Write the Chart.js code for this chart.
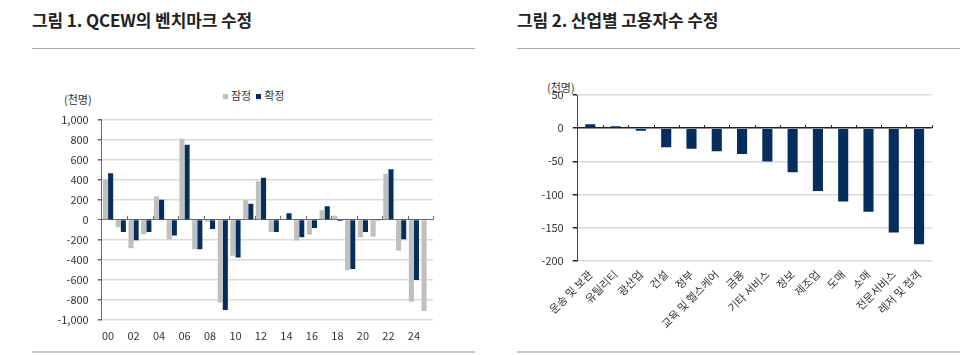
<!DOCTYPE html>
<html><head><meta charset="utf-8">
<script src="https://cdn.jsdelivr.net/npm/chart.js@4/dist/chart.umd.min.js"></script>
<style>
html,body{margin:0;padding:0;background:#fff;}
body{width:974px;height:355px;position:relative;overflow:hidden;font-family:"Noto Sans CJK KR","Noto Sans",sans-serif;color:#222;}
.title{position:absolute;top:7px;font-size:17px;font-weight:bold;letter-spacing:-0.1px;}
.hline{position:absolute;height:1px;background:#aaa;}
.bline{position:absolute;height:2px;background:#c8c8c8;}
.unit{position:absolute;font-size:11px;color:#333;}
.legend{position:absolute;font-size:11px;color:#333;top:87px;left:223px;white-space:nowrap;}
.legend i{display:inline-block;width:5px;height:5px;margin-right:3px;vertical-align:middle;position:relative;top:-1px;}
canvas{position:absolute;}
</style></head>
<body>
<div class="title" style="left:32px">그림 1. QCEW의 벤치마크 수정</div>
<div class="hline" style="left:32px;width:443px;top:48px"></div>
<div class="title" style="left:517px">그림 2. 산업별 고용자수 수정</div>
<div class="hline" style="left:517px;width:443px;top:48px"></div>
<div class="bline" style="left:32px;width:443px;top:351px"></div>
<div class="bline" style="left:517px;width:443px;top:351px"></div>
<div class="unit" style="left:64px;top:91px">(천명)</div>
<div class="legend"><i style="background:#bfbfbf"></i>잠정 &nbsp;<i style="background:#062e5c"></i>확정</div>
<div class="unit" style="left:547px;top:79px">(천명)</div>
<div id="c1w" style="position:absolute;left:20px;top:104px;width:430px;height:246px"><canvas id="c1"></canvas></div>
<div id="c2w" style="position:absolute;left:520px;top:70px;width:430px;height:285px"><canvas id="c2"></canvas></div>
<script>
// ---- Chart 1 data ----
const years = ['00','01','02','03','04','05','06','07','08','09','10','11','12','13','14','15','16','17','18','19','20','21','22','23','24','25'];
const yearTickLabels = ['00','','02','','04','','06','','08','','10','','12','','14','','16','','18','','20','','22','','24',''];
const prelim = [400,-75,-283,-143,235,-193,810,-293,-20,-825,-360,195,385,-123,0,-207,-150,95,40,-500,-173,-167,460,-307,-817,-910];
const finalRev = [465,-123,-205,-123,200,-157,750,-295,-93,-900,-375,160,420,-123,65,-173,-83,135,-13,-490,-123,-8,505,-193,-600,null];
// ---- Chart 2 data ----
const industries = ['운송 및 보관','유틸리티','광산업','건설','정부','교육 및 헬스케어','금융','기타 서비스','정보','제조업','도매','소매','전문서비스','레저 및 접객'];
const industryRev = [6,3,-4,-29,-31,-35,-39,-50.5,-66.5,-95,-110.5,-126,-157.5,-175];

const FONT = '"Noto Sans CJK KR","Noto Sans",sans-serif';
const NAVY = '#062e5c', GRAY = '#bfbfbf';

const zeroTicks = {
  id: 'zeroTicks',
  afterDatasetsDraw(chart, args, opts) {
    const xs = chart.scales.x, ys = chart.scales.y;
    const y0 = ys.getPixelForValue(0);
    const ctx = chart.ctx;
    ctx.save();
    ctx.strokeStyle = opts.color; ctx.lineWidth = 1;
    const n = chart.data.labels.length;
    for (let i = opts.every; i <= n; i += opts.every) {
      const px = Math.round(xs.getPixelForValue(i - 0.5)) + 0.5;
      ctx.beginPath(); ctx.moveTo(px, y0); ctx.lineTo(px, y0 - opts.len); ctx.stroke();
    }
    ctx.restore();
  }
};

Chart.defaults.font.family = FONT;
Chart.defaults.color = '#333';

new Chart(document.getElementById('c1'), {
  type: 'bar',
  data: {
    labels: years,
    datasets: [
      {label: '잠정', data: prelim, backgroundColor: GRAY, barPercentage: 1, categoryPercentage: 0.8},
      {label: '확정', data: finalRev, backgroundColor: NAVY, barPercentage: 1, categoryPercentage: 0.8}
    ]
  },
  options: {
    responsive: true, maintainAspectRatio: false, animation: false,
    layout: {padding: {top: 4, right: 17, left: 0, bottom: 0}},
    plugins: {legend: {display: false}, tooltip: {enabled: false}, zeroTicks: {color: '#666', every: 2, len: 4}},
    scales: {
      x: {
        grid: {display: false, drawTicks: false}, border: {display: false},
        ticks: {autoSkip: false, maxRotation: 0, padding: 9, font: {size: 11}, callback: (v, i) => yearTickLabels[i]},
        afterFit: s => { s.height = 30; }
      },
      y: {
        min: -1000, max: 1000,
        ticks: {stepSize: 200, padding: 9, font: {size: 11}},
        grid: {
          color: c => c.tick && c.tick.value === 0 ? '#666' : '#dadada',
          lineWidth: c => c.tick && c.tick.value === 0 ? 1 : 1.5,
          tickColor: '#666', tickLength: 4
        },
        border: {display: true, color: '#666', width: 1},
        afterFit: s => { s.width = 81.7; }
      }
    }
  },
  plugins: [zeroTicks]
});

new Chart(document.getElementById('c2'), {
  type: 'bar',
  data: {
    labels: industries,
    datasets: [{label: '수정', data: industryRev, backgroundColor: NAVY, barPercentage: 0.4, categoryPercentage: 1}]
  },
  options: {
    responsive: true, maintainAspectRatio: false, animation: false,
    layout: {padding: {top: 25, right: 18.3, left: 0, bottom: 0}},
    plugins: {legend: {display: false}, tooltip: {enabled: false}, zeroTicks: {color: '#222', every: 1, len: 3}},
    scales: {
      x: {
        grid: {display: false, drawTicks: false}, border: {display: false},
        ticks: {autoSkip: false, minRotation: 45, maxRotation: 45, padding: 7, font: {size: 11}},
        afterFit: s => { s.height = 94.3; }
      },
      y: {
        min: -200, max: 50,
        ticks: {stepSize: 50, padding: 9, font: {size: 11}},
        grid: {
          color: c => c.tick && c.tick.value === 0 ? '#222' : '#dadada',
          lineWidth: 1.5,
          tickColor: '#222', tickLength: 5
        },
        border: {display: true, color: '#444', width: 1},
        afterFit: s => { s.width = 57.7; }
      }
    }
  },
  plugins: [zeroTicks]
});
</script>
</body></html>
